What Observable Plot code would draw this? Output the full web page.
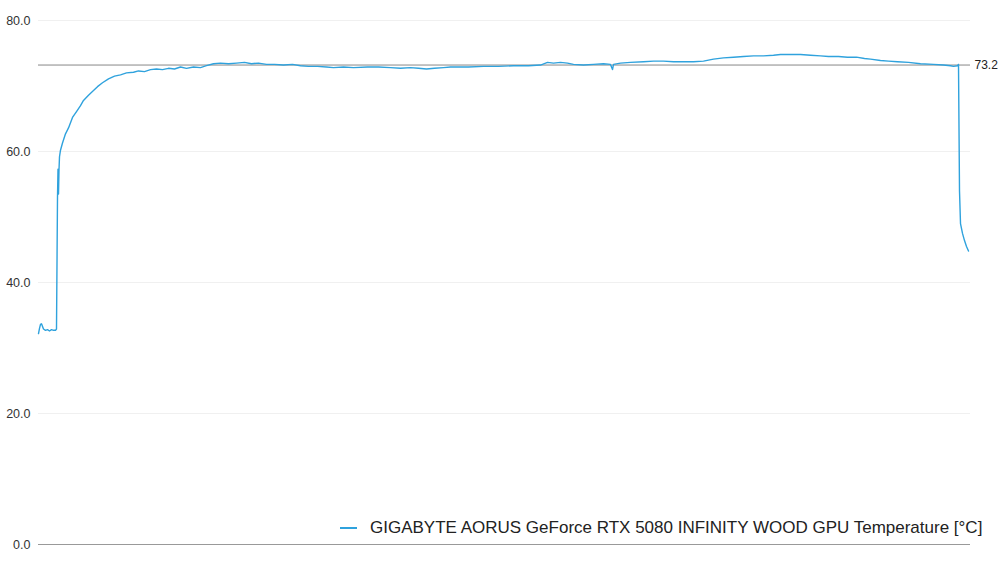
<!DOCTYPE html>
<html>
<head>
<meta charset="utf-8">
<script src="https://cdn.jsdelivr.net/npm/d3@7"></script>
<script src="https://cdn.jsdelivr.net/npm/@observablehq/plot@0.6"></script>
<style>
  body { margin: 0; background: #fff; font-family: "Liberation Sans", Arial, sans-serif; }
  #wrap { position: relative; width: 1000px; height: 563px; }
  #legend { position: absolute; left: 340px; top: 518px; font-size: 17px; color: #222; white-space: nowrap; }
  #legend span.swatch { display: inline-block; width: 17px; height: 2px; background: #2fa2dd; vertical-align: middle; margin-right: 13px; position: relative; top: -1px; }
</style>
</head>
<body>
<div id="wrap">
  <div id="chart"></div>
  <div id="legend"><span class="swatch"></span>GIGABYTE AORUS GeForce RTX 5080 INFINITY WOOD GPU Temperature [°C]</div>
</div>
<script>
// sample index (time) and GPU temperature
const times = [
  0, 1, 2, 3, 5, 7, 9, 11, 13, 15, 17, 18, 19, 19.5, 20, 20.5, 21, 22, 24, 27,
  30, 34, 38, 42, 45, 50, 55, 59, 64, 70, 76, 82, 88, 95, 100, 106, 112, 118, 124, 130,
  136, 142, 148, 155, 162, 168, 175, 182, 190, 198, 206, 213, 220, 228, 236, 245, 254, 262, 270, 279,
  288, 295, 305, 315, 329, 340, 352, 362, 372, 380, 388, 396, 405, 412, 420, 430, 445, 460, 475, 490,
  502, 509, 515, 522, 529, 535, 545, 555, 565, 572, 574, 575, 582, 592, 605, 615, 625, 635, 645, 655,
  665, 675, 685, 695, 705, 715, 725, 735, 742, 752, 762, 772, 782, 790, 800, 809, 818, 826, 832, 842,
  850, 859, 870, 882, 895, 905, 912, 915, 919, 920, 921, 922, 924, 926, 928, 930
];
const temps = [
  32.2, 33.0, 33.6, 33.7, 32.9, 32.7, 32.8, 32.6, 32.8, 32.7, 32.7, 32.9, 53.0, 57.3, 53.5, 57.2, 59.2, 60.2, 61.3, 62.7,
  63.6, 65.2, 66.1, 67.0, 67.8, 68.6, 69.3, 69.9, 70.5, 71.1, 71.5, 71.7, 72.0, 72.1, 72.3, 72.2, 72.5, 72.6, 72.5, 72.7,
  72.6, 72.9, 72.7, 72.9, 72.8, 73.1, 73.4, 73.5, 73.4, 73.5, 73.6, 73.4, 73.5, 73.3, 73.3, 73.2, 73.3, 73.1, 73.0, 73.0,
  72.9, 72.8, 72.9, 72.8, 72.9, 72.9, 72.8, 72.7, 72.8, 72.7, 72.6, 72.7, 72.8, 72.9, 72.9, 72.9, 73.0, 73.0, 73.1, 73.1,
  73.2, 73.6, 73.5, 73.6, 73.5, 73.3, 73.2, 73.3, 73.4, 73.3, 72.5, 73.3, 73.5, 73.6, 73.7, 73.8, 73.8, 73.7, 73.7, 73.7,
  73.8, 74.1, 74.3, 74.4, 74.5, 74.6, 74.6, 74.7, 74.8, 74.8, 74.8, 74.7, 74.6, 74.5, 74.5, 74.4, 74.4, 74.2, 74.1, 73.9,
  73.8, 73.7, 73.6, 73.4, 73.3, 73.2, 73.1, 73.0, 73.1, 73.3, 54.0, 49.0, 47.5, 46.4, 45.5, 44.8
];
const yTicks = [0, 20, 40, 60, 80];
const refValue = 73.2;

const data = times.map((t, i) => ({t, temp: temps[i]}));

const chart = Plot.plot({
  width: 1000,
  height: 563,
  marginLeft: 38,
  marginRight: 30,
  marginTop: 20,
  marginBottom: 19,
  style: {fontFamily: "'Liberation Sans', Arial, sans-serif", fontSize: "12.5px", color: "#333"},
  x: {domain: [0, 932], axis: null},
  y: {domain: [0, 80], ticks: yTicks, tickFormat: d3.format(".1f"), tickSize: 0, tickPadding: 8, label: null},
  marks: [
    Plot.gridY(yTicks, {stroke: "#f0f0f0", strokeOpacity: 1}),
    Plot.ruleY([0], {stroke: "#999"}),
    Plot.ruleY([refValue], {stroke: "#888", strokeWidth: 1}),
    Plot.text([refValue], {y: d => d, frameAnchor: "right", textAnchor: "start", dx: 4, text: d => d.toFixed(1), fill: "#222", fontSize: 12}),
    Plot.lineY(data, {x: "t", y: "temp", stroke: "#2fa2dd", strokeWidth: 1.4})
  ]
});
document.getElementById("chart").append(chart);
</script>
</body>
</html>
